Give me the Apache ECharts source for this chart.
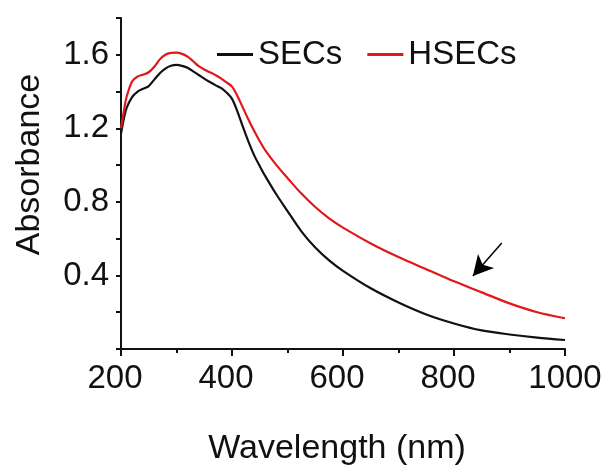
<!DOCTYPE html>
<html>
<head>
<meta charset="utf-8">
<script src="https://cdn.jsdelivr.net/npm/echarts@6/dist/echarts.min.js"></script>
<style>
  html, body { margin: 0; padding: 0; background: #fff; }
  #chart { width: 610px; height: 466px; }
</style>
</head>
<body>
<div id="chart"></div>
<script>
// wavelength (nm)
const wavelength = [200, 205, 210, 220, 230, 240, 250, 260, 270, 280, 290, 300, 310, 320, 330, 340,
  350, 360, 370, 380, 390, 400, 410, 420, 430, 440, 450, 460, 480, 500, 525, 550, 575, 600,
  650, 700, 750, 800, 850, 900, 950, 1000];
// absorbance
const secs = [1.17, 1.25, 1.31, 1.37, 1.40, 1.415, 1.43, 1.465, 1.50, 1.525, 1.54, 1.545, 1.54, 1.53,
  1.51, 1.49, 1.47, 1.452, 1.435, 1.42, 1.395, 1.36, 1.29, 1.205, 1.125, 1.053, 0.995, 0.94, 0.84, 0.75,
  0.64, 0.552, 0.482, 0.425, 0.33, 0.253, 0.188, 0.139, 0.101, 0.079, 0.062, 0.049];
const hsecs = [1.20, 1.29, 1.37, 1.455, 1.482, 1.492, 1.505, 1.535, 1.575, 1.60, 1.61, 1.612, 1.605, 1.59,
  1.565, 1.538, 1.52, 1.505, 1.49, 1.472, 1.45, 1.427, 1.375, 1.31, 1.245, 1.185, 1.13, 1.08, 1.0, 0.93,
  0.845, 0.772, 0.71, 0.66, 0.574, 0.50, 0.434, 0.368, 0.308, 0.248, 0.20, 0.167];
// arrow pointing at the HSECs tail
const arrowFrom = [886, 0.576];
const arrowTo = [834, 0.397];

const font = "Arial, 'Liberation Sans', sans-serif";
const ink = "#111";

const chart = echarts.init(document.getElementById("chart"));

//组装成 [x, y] 点
const pts = arr => wavelength.map((w, i) => [w, arr[i]]);

chart.setOption({
  animation: false,
  textStyle: { fontFamily: font },
  grid: { left: 121, right: 45, top: 18, bottom: 117, containLabel: false, outerBoundsMode: "none" },
  legend: {
    left: 217,
    top: 38,
    padding: 0,
    itemGap: 25,
    itemWidth: 36,
    itemHeight: 3,
    icon: "rect",
    textStyle: { fontSize: 33, color: ink, fontFamily: font },
    data: ["SECs", "HSECs"]
  },
  xAxis: {
    type: "value",
    min: 200,
    max: 1000,
    interval: 200,
    name: "Wavelength (nm)",
    nameLocation: "middle",
    nameGap: 83,
    nameTextStyle: { fontSize: 34, color: ink, fontFamily: font, padding: [0, 12, 0, 0] },
    axisLine: { lineStyle: { color: ink, width: 2 } },
    axisTick: { inside: false, length: 7, lineStyle: { color: ink, width: 2 } },
    minorTick: { show: true, splitNumber: 2, length: 4, lineStyle: { color: ink, width: 2 } },
    axisLabel: {
      fontSize: 33,
      color: ink,
      margin: 13,
      fontFamily: font,
      formatter: v => (v === 1000 ? "{b|" + v + "}" : "{a|" + v + "}"),
      rich: {
        a: { fontSize: 33, color: ink, fontFamily: font, padding: [0, 12, 0, 0] },
        b: { fontSize: 33, color: ink, fontFamily: font }
      }
    },
    splitLine: { show: false }
  },
  yAxis: {
    type: "value",
    min: 0,
    max: 1.8,
    interval: 0.2,
    name: "Absorbance",
    nameLocation: "middle",
    nameGap: 74,
    nameTextStyle: { fontSize: 34, color: ink, fontFamily: font, padding: [0, 0, 0, 38] },
    axisLine: { show: true, lineStyle: { color: ink, width: 2 } },
    axisTick: { show: true, length: 5, lineStyle: { color: ink, width: 2 } },
    axisLabel: {
      fontSize: 33,
      color: ink,
      margin: 12,
      fontFamily: font,
      formatter: v => {
        const k = Math.round(v * 10);
        return (k > 0 && k < 18 && k % 4 === 0) ? (k / 10).toFixed(1) : "";
      }
    },
    splitLine: { show: false }
  },
  series: [
    {
      name: "SECs",
      type: "line",
      symbol: "none",
      smooth: 0.3,
      color: "#111",
      lineStyle: { width: 2.2, color: "#111" },
      data: pts(secs)
    },
    {
      name: "HSECs",
      type: "line",
      symbol: "none",
      smooth: 0.3,
      color: "#e3161b",
      lineStyle: { width: 2.2, color: "#e3161b" },
      data: pts(hsecs),
      markLine: {
        silent: true,
        symbol: ["none", "arrow"],
        symbolSize: [16, 20],
        label: { show: false },
        lineStyle: { color: "#000", width: 1.5, type: "solid" },
        data: [[{ coord: arrowFrom }, { coord: arrowTo }]]
      }
    }
  ]
});
</script>
</body>
</html>
